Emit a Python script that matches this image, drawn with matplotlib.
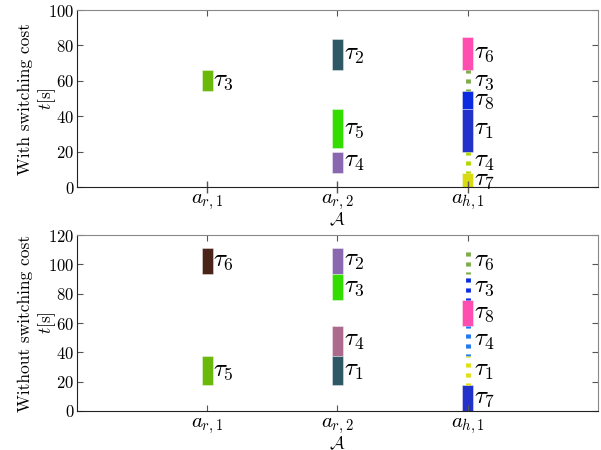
import matplotlib
matplotlib.use("Agg")
import matplotlib.pyplot as plt
import numpy as np

plt.rcParams['font.family'] = 'serif'
plt.rcParams['font.serif'] = ['cmr10']
plt.rcParams['mathtext.fontset'] = 'cm'
plt.rcParams['axes.formatter.use_mathtext'] = True
plt.rcParams['lines.scale_dashes'] = False

# ---------------- data ----------------
agents = [r'$a_{r,1}$', r'$a_{r,2}$', r'$a_{h,1}$']
agent_pos = [1, 2, 3]

# With switching cost
top_agent = [0, 1, 1, 1, 2, 2, 2, 2, 2, 2]
top_task = [3, 2, 5, 4, 6, 3, 8, 1, 4, 7]
top_start = [54, 66, 22, 8, 66, 54, 44, 20, 8, 0]
top_end = [66, 83.5, 44, 20, 85, 66, 54, 44, 20, 8]
top_switch = [False, False, False, False, False, True, False, False, True, False]
top_colors = ['#6ab90a', '#2e5866', '#33dd00', '#8a68b0', '#ff4db0',
              '#80ab4a', '#0a2be0', '#2332c8', '#b0d800', '#dada10']
top_yticks = [0, 20, 40, 60, 80, 100]
top_ylim = [0, 100]
top_tickcolors = ['#5a2020', '#d070a0', '#3090f0']

# Without switching cost
bot_agent = [0, 0, 1, 1, 1, 1, 2, 2, 2, 2, 2, 2]
bot_task = [6, 5, 2, 3, 4, 1, 6, 3, 8, 4, 1, 7]
bot_start = [93.5, 17.5, 93.5, 76, 37.5, 17.5, 93.5, 76, 58, 37.5, 17.5, 0]
bot_end = [111, 37.5, 111, 93.5, 58, 37.5, 111, 93.5, 76, 58, 37.5, 17.5]
bot_switch = [False, False, False, False, False, False, True, True, False, True, True, False]
bot_colors = ['#4a2418', '#6ab90a', '#8a68b0', '#33dd00', '#ac6a8c', '#2e5866',
              '#80ab4a', '#0a2be0', '#ff4db0', '#2078f0', '#e0e010', '#2332c8']
bot_yticks = [0, 20, 40, 60, 80, 100, 120]
bot_ylim = [0, 120]

ylabels = ['With switching cost\n$t$[s]', 'Without switching cost\n$t$[s]']

# ---------------- plotting ----------------
fig = plt.figure(figsize=(6.01, 4.5), dpi=100)
ax_top = fig.add_axes([0.128, 0.5844, 0.867, 0.3933])
ax_bot = fig.add_axes([0.128, 0.0867, 0.867, 0.391])

BW = 0.085


def draw(ax, ag, tk, st, en, sw, cols, yt, yl, ylabel):
    for a, t, s, e, w, c in zip(ag, tk, st, en, sw, cols):
        x = agent_pos[a]
        if w:
            ax.plot([x, x], [s, e], color=c, lw=3.5, solid_capstyle='butt',
                    dash_capstyle='butt', linestyle=(1.5, (3.0, 4.2)))
        else:
            ax.bar(x, e - s, bottom=s, width=BW, color=c,
                   edgecolor=(1, 1, 1, 0.45), linewidth=0.6)
        ax.text(x + BW / 2 + 0.004, (s + e) / 2, r'$\tau_{%d}$' % t,
                fontsize=18, ha='left', va='center')
    ax.set_xlim(0, 4)
    ax.set_ylim(*yl)
    ax.set_xticks(agent_pos)
    ax.set_xticklabels(agents, fontsize=15)
    ax.set_yticks(yt)
    ax.tick_params(axis='y', labelsize=12)
    ax.tick_params(direction='in', top=True, right=True, length=4,
                   color='#555555', pad=2)
    ax.tick_params(axis='x', pad=4)
    for sp in ['top', 'right']:
        ax.spines[sp].set_color('#888888')
    for sp in ['left', 'bottom']:
        ax.spines[sp].set_color('#222222')
    ax.set_xlabel(r'$\mathcal{A}$', fontsize=13, labelpad=-1)
    ax.set_ylabel(ylabel, fontsize=12.5, multialignment='center')
    ax.yaxis.set_label_coords(-0.036, 0.5)


draw(ax_top, top_agent, top_task, top_start, top_end, top_switch,
     top_colors, top_yticks, top_ylim, ylabels[0])
draw(ax_bot, bot_agent, bot_task, bot_start, bot_end, bot_switch,
     bot_colors, bot_yticks, bot_ylim, ylabels[1])

# coloured bottom ticks in the top panel
for tick, c in zip(ax_top.xaxis.get_major_ticks(), top_tickcolors):
    tick.tick1line.set_marker('|')
    tick.tick1line.set_markersize(8)
    tick.tick1line.set_color(c)
    tick.tick1line.set_markeredgewidth(1.0)

fig.savefig('out.png', dpi=100)
